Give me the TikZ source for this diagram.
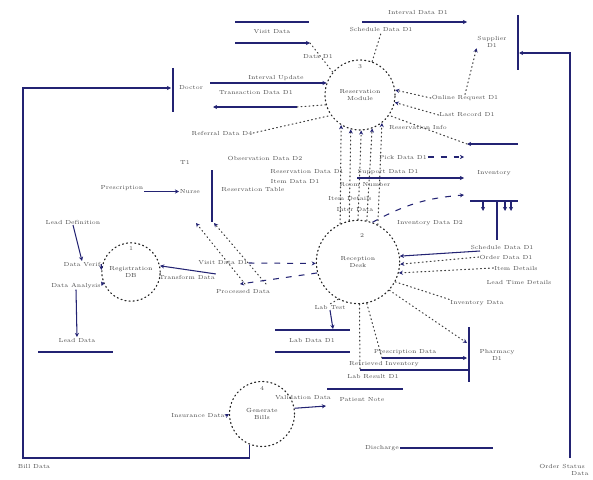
\documentclass[tikz,border=0pt]{standalone}
\usepackage{tikz}
\usetikzlibrary{arrows.meta}
\definecolor{navy}{RGB}{35,35,115}
\tikzset{
  lbl/.style={font=\fontsize{5}{5.5}\selectfont, text=black!70, inner sep=0.6pt, align=center},
  proc/.style={circle, draw=black!85, line width=1pt, dash pattern=on 0.9pt off 2.6pt, line cap=round,
    align=center, font=\fontsize{5}{5.5}\selectfont, text=black!75},
  line/.style={navy, line width=0.9pt},
  flow/.style={line, -{Stealth[length=3.5pt,width=3.5pt]}},
  dotline/.style={black!75, line width=0.9pt, dash pattern=on 0.8pt off 2.6pt, line cap=round},
  dflow/.style={dotline, -{Stealth[length=3.5pt,width=3.5pt,navy]}},
  dashflow/.style={line, dash pattern=on 5pt off 6pt, -{Stealth[length=3.5pt,width=3.5pt]}},
}
\begin{document}
\begin{tikzpicture}[x=0.03cm,y=-0.03cm,>=Stealth]
  \useasboundingbox (0,0) rectangle (593,479);

  % processes
  \node[proc, minimum size=2.1cm] (p1) at (360,95) {Reservation\\Module};
  \node[proc, minimum size=2.5cm] (p2) at (358,262) {Reception\\Desk};
  \node[proc, minimum size=1.75cm] (p3) at (131,272) {Registration\\DB};
  \node[proc, minimum size=1.95cm] (p4) at (262,414) {Generate\\Bills};
  \node[lbl] at (360,67) {3};
  \node[lbl] at (362,236) {2};
  \node[lbl] at (131,249) {1};
  \node[lbl] at (262,389) {4};

  % entities and stores
  \node[lbl] (doctor) at (191,88) {Doctor};
  \coordinate (docw) at (171,88);
  \draw[line] (173,68) -- (173,112);
  \node[lbl] (sup) at (492,42) {Supplier\\D1};
  \coordinate (supe) at (519,53);
  \draw[line] (518,15) -- (518,70);
  \node[lbl] (visit) at (272,32) {Visit Data};
  \draw[line] (235,22) -- (309,22);
  \node[lbl] (nurse) at (190,192) {Nurse};
  \node[lbl] at (185,163) {T1};
  \draw[line] (212,170) -- (212,222);
  \node[lbl] (inv) at (494,173) {Inventory};
  \draw[line] (470,201) -- (518,201);
  \node[lbl] (pharm) at (497,355) {Pharmacy\\D1};
  \draw[line] (469,327) -- (469,382);
  \node[lbl] (labdata) at (312,340) {Lab Data D1};
  \draw[line] (275,330) -- (350,330);
  \draw[line] (275,352) -- (350,352);
  \node[lbl] (leaddef) at (73,222) {Lead Definition};
  \node[lbl] (leaddata) at (77,340) {Lead Data};
  \draw[line] (38,352) -- (113,352);

  % top flows
  \draw[flow] (235,43) -- (310,43);
  \draw[dotline] (310,43) -- (p1.140);
  \node[lbl] at (318,57) {Data D1};
  \node[lbl] (sched) at (381,30) {Schedule Data D1};
  \draw[dotline] (p1.70) -- (sched.south);
  \node[lbl] at (418,13) {Interval Data D1};
  \draw[flow] (362,22) -- (467,22);
  \node[lbl] (online) at (465,98) {Online Request D1};
  \node[lbl] (lastrec) at (467,115) {Last Record D1};
  \draw[dflow] (online.north) -- (sup.south west);
  \draw[dflow] (online.west) -- (p1.8);
  \draw[dflow] (lastrec.west) -- (p1.-12);
  \node[lbl] at (418,127) {Reservation Info};
  \draw[flow] (518,144) -- (467,144);
  \draw[dotline] (467,144) -- (p1.-35);
  \draw[flow] (570,458) -- (570,53) -- (supe);
  \node[lbl] at (562,466) {Order Status};
  \node[lbl] at (580,474) {Data};

  % doctor
  \draw[flow] (210,83) -- (p1.160 |- 210,83);
  \node[lbl] at (276,78) {Interval Update};
  \node[lbl] at (256,93) {Transaction Data D1};
  \draw[dotline] (p1.196) -- (297,107);
  \draw[flow] (297,107) -- (213,107);
  \node[lbl] (refer) at (222,133) {Referral Data D4};
  \draw[dotline] (refer.east) -- (p1.215);
  \draw[flow] (p4.248) |- (23,458) -- (23,88) -- (docw);
  \node[lbl] at (34,466) {Bill Data};

  % between p1 and p2
  \draw[dflow] (p2.115) -- (p1.238);
  \draw[dflow] (p2.102) -- (p1.255);
  \draw[dflow] (p2.90) -- (p1.272);
  \draw[dflow] (p2.78) -- (p1.290);
  \draw[dflow] (p2.62) -- (p1.308);
  \node[lbl] at (265,158) {Observation Data D2};
  \node[lbl] at (307,172) {Reservation Data D1};
  \node[lbl] at (295,182) {Item Data D1};
  \node[lbl] at (253,190) {Reservation Table};
  \node[lbl] at (365,185) {Room Number};
  \node[lbl] at (350,198) {Item Details};
  \node[lbl] at (355,210) {Inter Data};

  % inventory
  \node[lbl] (pick) at (403,157) {Pick Data D1};
  \draw[dashflow] (pick.east) -- (464,157);
  \node[lbl] at (388,172) {Support Data D1};
  \draw[flow] (357,178) -- (464,178);
  \draw[dashflow] (p2.70) to[bend left=12] (464,195);
  \node[lbl] at (430,223) {Inventory Data D2};
  \draw[flow] (483,201) -- (483,211);
  \draw[flow] (505,201) -- (505,211);
  \draw[flow] (511,201) -- (511,211);
  \draw[line] (497,201) -- (497,240);
  \draw[flow] (480,251) -- (p2.8);
  \node[lbl] (schd) at (502,247) {Schedule Data D1};
  \node[lbl] (order) at (506,257) {Order Data D1};
  \node[lbl] (item) at (516,268) {Item Details};
  \node[lbl] (lead) at (519,282) {Lead Time Details};
  \draw[dflow] (order.west) -- (p2.-3);
  \draw[dflow] (item.west) -- (p2.-15);
  \node[lbl] (inv2) at (477,303) {Inventory Data};
  \draw[dotline] (p2.-28) -- (inv2.north west);

  % nurse
  \node[lbl] (presc) at (122,188) {Prescription};
  \draw[flow] (presc.south east) -- (nurse.west |- presc.south east);
  \draw[dflow] (245,284) -- (196,223);
  \draw[dflow] (266,284) -- (214,223);
  \node[lbl] at (243,291) {Processed Data};
  \draw[dashflow] (p2.195) -- (240,284);

  % registration
  \node[lbl] (verif) at (82,264) {Data Verif};
  \node[lbl] (anal) at (76,286) {Data Analysis};
  \draw[flow] (leaddef.south) -- (verif.north);
  \draw[flow] (verif.east) -- (p3.176);
  \draw[flow] (p3.200) -- (anal.east);
  \draw[flow] (anal.south) -- (leaddata.north);
  \node[lbl] (visitd) at (223,263) {Visit Data D1};
  \draw[dashflow] (visitd.east) -- (p2.182);
  \node[lbl] (transf) at (187,277) {Transform Data};
  \draw[flow] (transf.north east) -- (p3.12);

  % bottom
  \node[lbl] (labtx) at (330,307) {Lab Test};
  \draw[dotline] (p2.242) -- (labtx.north);
  \draw[flow] (labtx.south) -- (333,329);
  \draw[dflow] (p2.-42) -- (467,343);
  \node[lbl] at (405,352) {Prescription Data};
  \draw[dotline] (p2.282) -- (382,358);
  \draw[flow] (382,358) -- (467,358);
  \node[lbl] at (384,364) {Retrieved Inventory};
  \draw[dotline] (p2.272) -- (360,370);
  \draw[line] (360,370) -- (468,370);
  \node[lbl] at (373,377) {Lab Result D1};
  \draw[line] (327,389) -- (403,389);
  \node[lbl] at (362,400) {Patient Note};
  \node[lbl] (valid) at (303,398) {Validation Data};
  \draw[flow] (p4.10) -- (326,406);
  \node[lbl] (disch) at (382,448) {Discharge};
  \draw[line] (disch.east) -- (493,448);
  \node[lbl] (insur) at (198,416) {Insurance Data};
  \draw[flow] (insur.east) -- (p4.west);
\end{tikzpicture}
\end{document}
